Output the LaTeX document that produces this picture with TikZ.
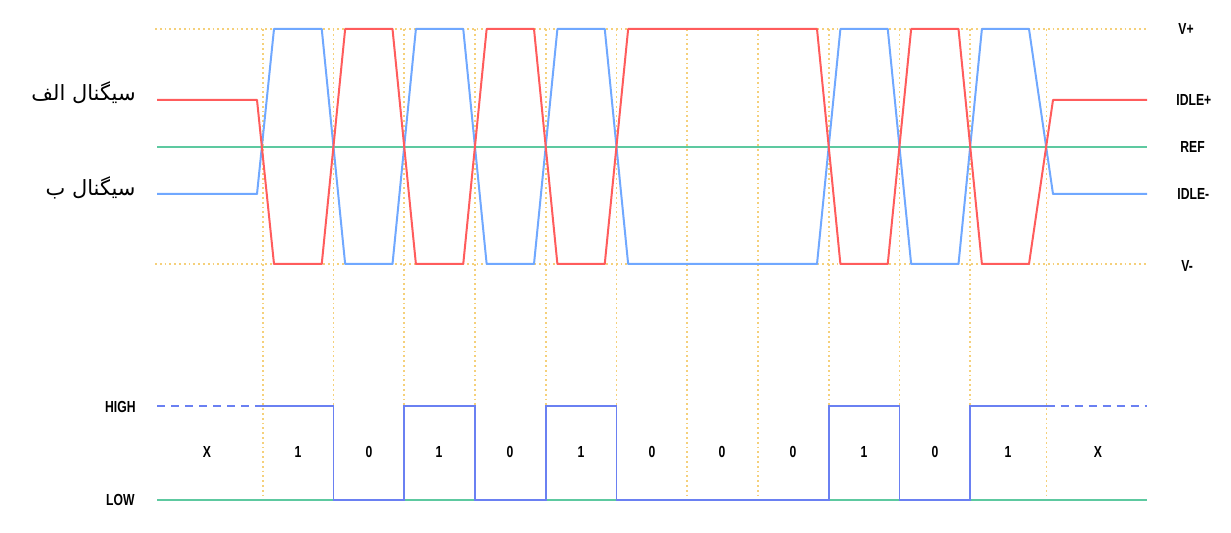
\documentclass[tikz,border=0pt]{standalone}
\usepackage{fontspec}
\setmainfont{Liberation Sans}[FakeStretch=0.76]
\newfontfamily\farsifont[Script=Arabic]{DejaVu Sans}
\TeXXeTstate=1
\usetikzlibrary{positioning}

\definecolor{sigred}{HTML}{FF5C5C}
\definecolor{sigblue}{HTML}{70A8FF}
\definecolor{refgreen}{HTML}{5DC9A0}
\definecolor{bitblue}{HTML}{6A80F2}
\definecolor{gridyellow}{HTML}{F5D07A}

\tikzset{
  gridline/.style={gridyellow, line width=0.9pt, dash pattern=on 0.9pt off 1.5pt},
  sigA/.style={sigred, line width=1pt, line join=round},
  sigB/.style={sigblue, line width=1pt, line join=round},
  refline/.style={refgreen, line width=0.8pt},
  bitline/.style={bitblue, line width=0.8pt},
  levlabel/.style={font=\fontsize{8}{9}\selectfont\bfseries, inner sep=0pt},
  farsilabel/.style={font=\farsifont\fontsize{10.5}{13}\selectfont, inner sep=0pt, anchor=east}
}

\begin{document}
\begin{tikzpicture}[x=0.5pt, y=-0.5pt]
\useasboundingbox (0,0) rectangle (1231,533);

\foreach \i in {0,...,10}
  \draw[gridline] ({262.7+70.75*\i},29) -- ({262.7+70.75*\i},500);
\draw[gridline] (1046.5,29) -- (1046.5,500);
\draw[gridline] (155,29) -- (1147,29);
\draw[gridline] (155,264) -- (1147,264);

\draw[refline] (157,147) -- (1147,147);

\draw[sigB] (157,194) -- (257,194) -- (274,29)
  -- (321.75,29) -- (345.15,264) -- (392.5,264) -- (415.9,29)
  -- (463.25,29) -- (486.65,264) -- (534,264) -- (557.4,29)
  -- (604.75,29) -- (628.15,264) -- (817,264) -- (840.4,29)
  -- (887.75,29) -- (911.15,264) -- (958.5,264) -- (981.9,29)
  -- (1029,29) -- (1053,194) -- (1147,194);
\draw[sigA] (157,100) -- (257,100) -- (274,264)
  -- (321.75,264) -- (345.15,29) -- (392.5,29) -- (415.9,264)
  -- (463.25,264) -- (486.65,29) -- (534,29) -- (557.4,264)
  -- (604.75,264) -- (628.15,29) -- (817,29) -- (840.4,264)
  -- (887.75,264) -- (911.15,29) -- (958.5,29) -- (981.9,264)
  -- (1029,264) -- (1053,100) -- (1147,100);

\node[farsilabel] (siga) at (136,93) {\beginR سیگنال الف\endR};
\node[farsilabel] (sigb) at (136,188) {\beginR سیگنال ب\endR};

\node[levlabel, anchor=west] (vplus) at (1178,29) {V+};
\node[levlabel, anchor=west] (idleplus) at (1176,100) {IDLE+};
\node[levlabel, anchor=west] (ref) at (1180,147) {REF};
\node[levlabel, anchor=west] (idleminus) at (1177,194) {IDLE-};
\node[levlabel, anchor=west] (vminus) at (1181,266) {V-};

\draw[refline] (157,500) -- (1147,500);
\draw[bitline, dash pattern=on 4pt off 3pt] (157,406) -- (263,406);
\draw[bitline, dash pattern=on 4pt off 3pt] (1046.5,406) -- (1147,406);
\draw[bitline] (262.7,406) -- (333.45,406) -- (333.45,500) -- (404.2,500)
  -- (404.2,406) -- (474.95,406) -- (474.95,500) -- (545.7,500)
  -- (545.7,406) -- (616.45,406) -- (616.45,500) -- (828.7,500)
  -- (828.7,406) -- (899.45,406) -- (899.45,500) -- (970.2,500)
  -- (970.2,406) -- (1046.5,406);

\node[levlabel, anchor=east] (high) at (136,407) {HIGH};
\node[levlabel, anchor=east] (low) at (135,500) {LOW};

\foreach \x/\b [count=\i] in {207/X, 298/1, 369/0, 439/1, 510/0, 581/1,
    652/0, 722/0, 793/0, 864/1, 935/0, 1008/1, 1098/X}
  \node[levlabel] (bit\i) at (\x,452) {\b};
\end{tikzpicture}
\end{document}
